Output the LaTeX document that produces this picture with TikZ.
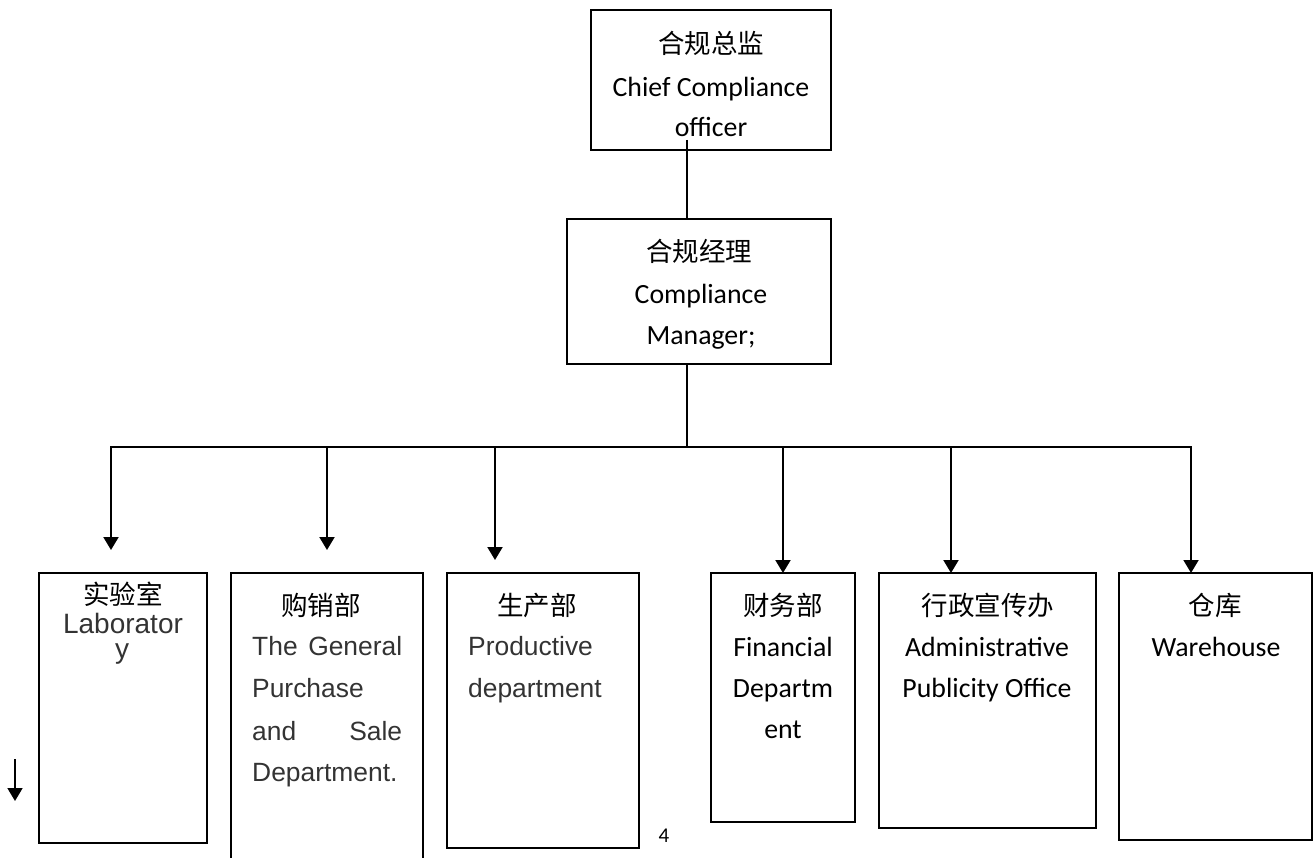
\documentclass[tikz,border=0pt]{standalone}
\usepackage{fontspec}
\setmainfont{Carlito}
\newfontfamily\arialf{Liberation Sans}
\newfontfamily\cjkf{Noto Sans CJK SC}
\usetikzlibrary{arrows.meta}
\begin{document}
\begin{tikzpicture}[x=1pt,y=-1pt,
  box/.style={draw,line width=1.6pt,inner sep=0pt,outer sep=0pt,anchor=north west},
  link/.style={line width=2pt},
  arr/.style={line width=2pt,-{Triangle[width=15pt,length=13pt]}},
  cn/.style={inner sep=0pt,font=\cjkf\fontsize{26.5}{26.5}\selectfont},
  en/.style={inner sep=0pt,font=\fontsize{27.8}{27.8}\selectfont},
  ar/.style={inner sep=0pt,text=black!80,font=\arialf\fontsize{26.4}{26.4}\selectfont},
  arl/.style={inner sep=0pt,text=black!80,font=\arialf\fontsize{28}{28}\selectfont}]
\useasboundingbox (0,0) rectangle (1313,858);
\clip (0,0) rectangle (1313,858);
% boxes
\node[box,minimum width=240pt,minimum height=140pt] (top) at (591,10) {};
\node[box,minimum width=264pt,minimum height=145pt] (mgr) at (567,219) {};
\node[box,minimum width=168pt,minimum height=270pt] (lab) at (39,573) {};
\node[box,minimum width=192pt,minimum height=292pt] (pur) at (231,573) {};
\node[box,minimum width=192pt,minimum height=275pt] (prod) at (447,573) {};
\node[box,minimum width=144pt,minimum height=249pt] (fin) at (711,573) {};
\node[box,minimum width=217pt,minimum height=255pt] (adm) at (879,573) {};
\node[box,minimum width=193pt,minimum height=267pt] (war) at (1119,573) {};
% texts
\node[cn,anchor=base] (t1) at (711,54) {合规总监};
\node[en,anchor=base] (t2) at (711,97) {Chief Compliance};
\node[en,anchor=base] (t3) at (711,137) {officer};
\node[cn,anchor=base] (m1) at (699,262) {合规经理};
\node[en,anchor=base] (m2) at (701,303) {Compliance};
\node[en,anchor=base] (m3) at (701,344) {Manager;};
\node[cn,anchor=base] (l1) at (123,604) {实验室};
\node[arl,anchor=base] (l2) at (123,633) {Laborator};
\node[arl,anchor=base] (l3) at (122,658) {y};
\node[cn,anchor=base] (p1) at (321,615) {购销部};
\node[ar,anchor=base west] (p2) at (252,655) {\makebox[150pt][s]{The General}};
\node[ar,anchor=base west] (p3) at (252,697) {Purchase};
\node[ar,anchor=base west] (p4) at (252,740) {\makebox[150pt][s]{and Sale}};
\node[ar,anchor=base west] (p5) at (252,781) {Department.};
\node[cn,anchor=base] (r1) at (537,615) {生产部};
\node[ar,anchor=base west] (r2) at (468,655) {Productive};
\node[ar,anchor=base west] (r3) at (468,697) {department};
\node[cn,anchor=base] (f1) at (783,615) {财务部};
\node[en,anchor=base] (f2) at (783,656) {Financial};
\node[en,anchor=base] (f3) at (783,697) {Departm};
\node[en,anchor=base] (f4) at (783,738) {ent};
\node[cn,anchor=base] (a1) at (988,615) {行政宣传办};
\node[en,anchor=base] (a2) at (987,656) {Administrative};
\node[en,anchor=base] (a3) at (987,697) {Publicity Office};
\node[cn,anchor=base] (w1) at (1215,615) {仓库};
\node[en,anchor=base] (w2) at (1216,656) {Warehouse};
\node[inner sep=0pt,font=\fontsize{21}{21}\selectfont] (pg) at (664,836) {4};
% connectors
\coordinate (cs) at (687,140);
\coordinate (busL) at (111,447);
\coordinate (busM) at (687,447);
\coordinate (busR) at (1191,447);
\coordinate (j2) at (327,447);
\coordinate (j3) at (495,447);
\coordinate (j4) at (783,447);
\coordinate (j5) at (951,447);
\coordinate (e1) at (111,550);
\coordinate (e2) at (327,550);
\coordinate (e3) at (495,560);
\draw[link] (cs) -- (cs |- mgr.north);
\draw[link] (busM |- mgr.south) -- (busM);
\draw[link,line cap=rect] (busL) -- (busR);
\draw[arr] (busL) -- (e1);
\draw[arr] (j2) -- (e2);
\draw[arr] (j3) -- (e3);
\draw[arr] (j4) -- (j4 |- fin.north);
\draw[arr] (j5) -- (j5 |- adm.north);
\draw[arr] (busR) -- (busR |- war.north);
\coordinate (sa) at (15,759);
\coordinate (sb) at (15,801);
\draw[arr,line width=1.8pt] (sa) -- (sb);
\end{tikzpicture}
\end{document}
